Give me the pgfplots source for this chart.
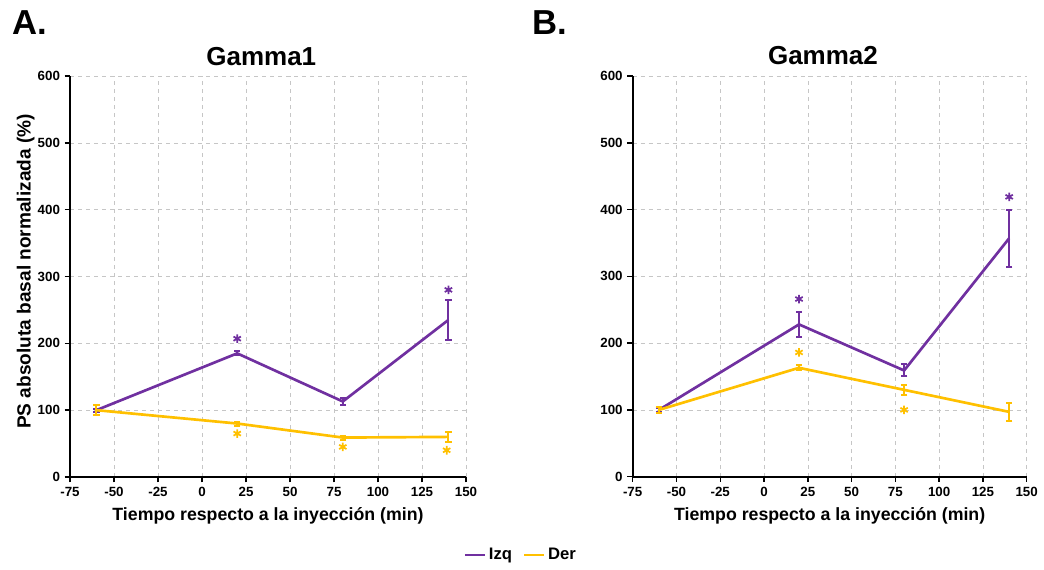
\documentclass[border=0pt]{standalone}
\usepackage{fontspec}
\setmainfont{Liberation Sans}
\usepackage{pgfplots}
\pgfplotsset{compat=1.18}
\definecolor{izq}{RGB}{112,48,160}
\definecolor{der}{RGB}{255,192,0}
\pgfplotsset{
  panel/.style={
    scale only axis, width=297pt, height=300.75pt,
    xmin=-75, xmax=150, ymin=0, ymax=600,
    xtick={-75,-50,...,150}, ytick={0,100,...,600},
    axis x line*=bottom, axis y line*=left,
    axis line style={-, line width=1.6pt, black},
    grid=major, major grid style={dashed, gray!45, line width=0.4pt},
    tick style={black, line width=1.1pt}, tick align=outside, major tick length=4pt,
    /pgf/number format/assume math mode=true,
    ticklabel style={font=\bfseries\fontsize{10}{11}\selectfont},
    xticklabel style={text height=7.2pt, text depth=0pt},
    xlabel={Tiempo respecto a la inyección (min)},
    xlabel style={font=\bfseries\fontsize{13.3}{14}\selectfont, at={(axis description cs:0.5,-0.1097)}, anchor=base},
    title style={font=\bfseries\fontsize{19.5}{21}\selectfont, at={(axis description cs:0.483,1)}, anchor=base, yshift=2.25pt, inner sep=0pt},
    clip=false,
    legend image code/.code={\draw[#1, line width=2pt] (0pt,0pt) -- (15pt,0pt);},
  },
  ser/.style={#1, line width=2pt, mark=none,
    error bars/.cd, y dir=both, y explicit,
    error bar style={line width=1.5pt, #1},
    error mark options={rotate=90, mark size=2.4pt, line width=1.5pt, #1}},
  star/.style={only marks, mark=asterisk, mark size=3.2pt, mark options={#1, line width=1.3pt}, forget plot},
}
\begin{document}
\begin{tikzpicture}
\path[use as bounding box] (0,0) rectangle (783pt,427.5pt);
\node[anchor=base west, font=\bfseries\fontsize{26}{28}\selectfont, inner sep=0pt] at (9pt,401.25pt) {A.};
\node[anchor=base west, font=\bfseries\fontsize{26}{28}\selectfont, inner sep=0pt] at (399pt,401.25pt) {B.};
\begin{axis}[panel, at={(52.5pt,69.75pt)}, anchor=south west,
  title={Gamma1},
  ylabel={PS absoluta basal normalizada (\%)},
  ylabel style={font=\bfseries\fontsize{14.3}{15}\selectfont, at={(axis description cs:-0.112,0.5125)}, anchor=center},
  legend style={at={(axis description cs:1.139,-0.1945)}, anchor=center, draw=none, fill=none, legend columns=2,
    font=\bfseries\fontsize{12.5}{13}\selectfont, /tikz/every even column/.append style={column sep=6pt}},
]
\addplot[ser=izq] coordinates {(-60,100) +- (0,2) (20,185) +- (0,3) (80,113) +- (0,5) (140,235) +- (0,30)};
\addlegendentry{Izq}
\addplot[ser=der] coordinates {(-60,100) +- (0,7) (20,80) +- (0,3) (80,59) +- (0,3) (140,60) +- (0,8)};
\addlegendentry{Der}
\addplot[star=izq] coordinates {(20,207) (140,280)};
\addplot[star=der] coordinates {(20,65) (80,45) (139,40)};
\end{axis}
\begin{axis}[panel, at={(474.5pt,70pt)}, anchor=south west, width=295.5pt, height=300.5pt,
  title={Gamma2},
]
\addplot[ser=izq] coordinates {(-60,100) +- (0,3) (20,228) +- (0,19) (80,159) +- (0,9) (140,357) +- (0,43)};
\addplot[ser=der] coordinates {(-60,100) +- (0,4) (20,163) +- (0,4) (80,130) +- (0,8) (140,97) +- (0,14)};
\addplot[star=izq] coordinates {(20,266) (140,419)};
\addplot[star=der] coordinates {(20,186) (80,100)};
\end{axis}
\end{tikzpicture}
\end{document}
